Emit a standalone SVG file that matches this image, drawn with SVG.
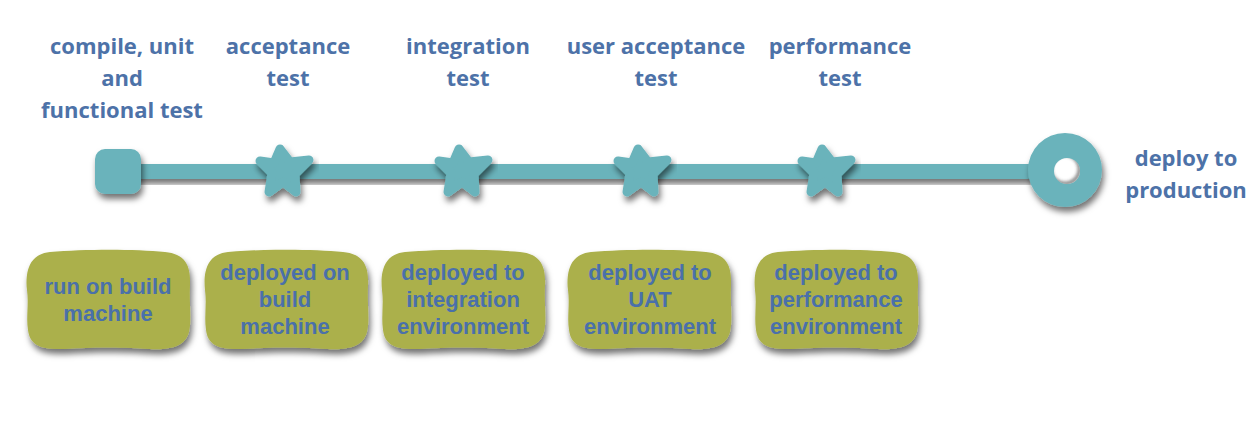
<svg xmlns="http://www.w3.org/2000/svg" width="1258" height="428" viewBox="0 0 1258 428">
<defs>
<style>
.lbl{font-family:"Open Sans","Liberation Sans",sans-serif;font-weight:700;font-size:22px;fill:#4d72a8;text-anchor:middle}
.btx{font-family:"Liberation Sans",Arial,sans-serif;font-weight:700;font-size:22px;fill:#4a70aa;text-anchor:middle}
.teal{fill:#6bb3bb}
.olive{fill:#abb04b}
</style>
<filter id="sh" x="-20%" y="-30%" width="140%" height="170%">
<feDropShadow dx="2" dy="5" stdDeviation="3" flood-color="#000" flood-opacity="0.55"/>
</filter>
<filter id="blur1"><feGaussianBlur stdDeviation="1.5"/></filter>
<clipPath id="hole"><circle cx="1067" cy="171" r="13"/></clipPath>
<path id="blob" d="M25,2 C60,-1 110,-1 140,2 C160,4 166,15 165,35 C164,55 167,70 164,82 C160,97 145,100 125,99 C90,97 70,97 40,99 C15,100 5,95 3,80 C1,65 4,55 2,40 C0,20 5,4 25,2 Z"/>
<polygon id="star" points="-3,-22 7,-9 26,-11 12,3 13,21 0,11 -14,21 -11,2 -23,-10 -9,-8" stroke="#6bb3bb" stroke-width="9" stroke-linejoin="round"/>
</defs>
<rect width="1258" height="428" fill="#fff"/>

<g id="connectors" filter="url(#sh)">
<rect class="teal" x="118" y="164" width="920" height="15"/>
</g>

<g id="stage-build">
<rect class="teal" x="95" y="149" width="46" height="45" rx="10" filter="url(#sh)"/>
<text class="lbl" x="122" y="54">compile, unit</text>
<text class="lbl" x="122" y="86">and</text>
<text class="lbl" x="122" y="118">functional test</text>
<use href="#blob" class="olive" x="25" y="250" filter="url(#sh)"/>
<text class="btx" x="108" y="294">run on build</text>
<text class="btx" x="108" y="321">machine</text>
</g>

<g id="stage-acceptance">
<use href="#star" class="teal" x="283" y="171" filter="url(#sh)"/>
<text class="lbl" x="288" y="54">acceptance</text>
<text class="lbl" x="288" y="86">test</text>
<use href="#blob" class="olive" x="203" y="250" filter="url(#sh)"/>
<text class="btx" x="285" y="280">deployed on</text>
<text class="btx" x="285" y="307">build</text>
<text class="btx" x="285" y="334">machine</text>
</g>

<g id="stage-integration">
<use href="#star" class="teal" x="462" y="171" filter="url(#sh)"/>
<text class="lbl" x="468" y="54">integration</text>
<text class="lbl" x="468" y="86">test</text>
<use href="#blob" class="olive" x="380" y="250" filter="url(#sh)"/>
<text class="btx" x="463" y="280">deployed to</text>
<text class="btx" x="463" y="307">integration</text>
<text class="btx" x="463" y="334">environment</text>
</g>

<g id="stage-uat">
<use href="#star" class="teal" x="641" y="171" filter="url(#sh)"/>
<text class="lbl" x="656" y="54">user acceptance</text>
<text class="lbl" x="656" y="86">test</text>
<use href="#blob" class="olive" x="566" y="250" filter="url(#sh)"/>
<text class="btx" x="650" y="280">deployed to</text>
<text class="btx" x="650" y="307">UAT</text>
<text class="btx" x="650" y="334">environment</text>
</g>

<g id="stage-performance">
<use href="#star" class="teal" x="825" y="171" filter="url(#sh)"/>
<text class="lbl" x="840" y="54">performance</text>
<text class="lbl" x="840" y="86">test</text>
<use href="#blob" class="olive" x="753" y="250" filter="url(#sh)"/>
<text class="btx" x="836" y="280">deployed to</text>
<text class="btx" x="836" y="307">performance</text>
<text class="btx" x="836" y="334">environment</text>
</g>

<g id="stage-production">
<circle class="teal" cx="1065" cy="170" r="37" filter="url(#sh)"/>
<circle cx="1067" cy="171" r="13" fill="#fff"/>
<g clip-path="url(#hole)">
<circle cx="1065" cy="169" r="14.5" fill="none" stroke="#444" stroke-opacity="0.6" stroke-width="4" filter="url(#blur1)"/>
</g>
<text class="lbl" x="1186" y="166">deploy to</text>
<text class="lbl" x="1186" y="198">production</text>
</g>
</svg>
